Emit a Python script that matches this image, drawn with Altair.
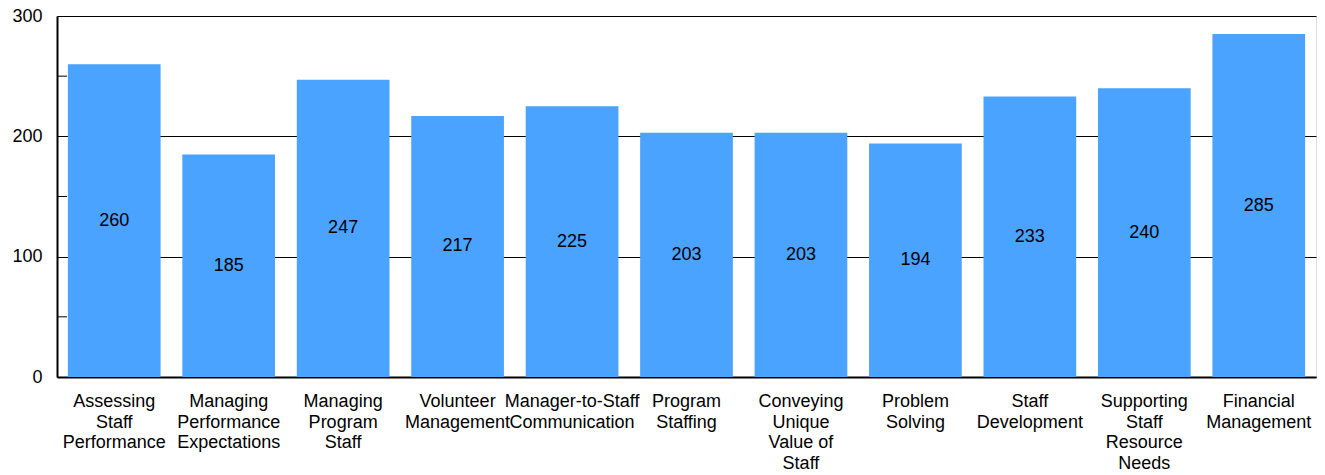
import json
import altair as alt
import pandas as pd

categories = [
    "Assessing Staff Performance",
    "Managing Performance Expectations",
    "Managing Program Staff",
    "Volunteer Management",
    "Manager-to-Staff Communication",
    "Program Staffing",
    "Conveying Unique Value of Staff",
    "Problem Solving",
    "Staff Development",
    "Supporting Staff Resource Needs",
    "Financial Management",
]
label_lines = [
    ["Assessing", "Staff", "Performance"],
    ["Managing", "Performance", "Expectations"],
    ["Managing", "Program", "Staff"],
    ["Volunteer", "Management"],
    ["Manager-to-Staff", "Communication"],
    ["Program", "Staffing"],
    ["Conveying", "Unique", "Value of", "Staff"],
    ["Problem", "Solving"],
    ["Staff", "Development"],
    ["Supporting", "Staff", "Resource", "Needs"],
    ["Financial", "Management"],
]
values = [260, 185, 247, 217, 225, 203, 203, 194, 233, 240, 285]
minor_ticks = [50, 150, 250]

df = pd.DataFrame({"cat": categories, "value": values})
df["mid"] = df["value"] / 2
ticks_df = pd.DataFrame({"t": minor_ticks})

label_map = json.dumps(dict(zip(categories, label_lines)))
label_expr = f"{label_map}[datum.label]"

FONT = "Liberation Sans"
FS = 18

x_enc = alt.X(
    "cat:N",
    sort=categories,
    scale=alt.Scale(paddingInner=0.19, paddingOuter=0.095),
    axis=alt.Axis(
        title=None,
        labelAngle=0,
        labelExpr=label_expr,
        labelFontSize=FS,
        labelFont=FONT,
        labelColor="black",
        labelLineHeight=20.5,
        labelBaseline="top",
        labelPadding=15.5,
        tickSize=0,
        domainColor="black",
        domainWidth=2,
        labelLimit=220,
        labelOverlap=False,
    ),
)
y_scale = alt.Scale(domain=[0, 300], nice=False)

bars = alt.Chart(df).mark_bar(color="#4aa3ff").encode(
    x=x_enc,
    y=alt.Y(
        "value:Q",
        scale=y_scale,
        axis=alt.Axis(
            title=None,
            values=[0, 100, 200, 300],
            labelFontSize=FS,
            labelFont=FONT,
            labelColor="black",
            labelPadding=15,
            tickSize=0,
            domainColor="black",
            domainWidth=2,
            grid=True,
            gridColor="black",
            gridWidth=1,
        ),
    ),
)

text = alt.Chart(df).mark_text(fontSize=FS, font=FONT, color="black").encode(
    x=alt.X("cat:N", sort=categories),
    y=alt.Y("mid:Q", scale=y_scale),
    text=alt.Text("value:Q"),
)

minor = alt.Chart(ticks_df).mark_rule(color="black", strokeWidth=1).encode(
    y=alt.Y("t:Q", scale=y_scale),
    x=alt.value(0),
    x2=alt.value(10),
)

chart = (
    alt.layer(bars, minor, text)
    .properties(
        width=1259,
        height=361,
        autosize=alt.AutoSizeParams(type="none"),
        padding={"left": 49, "top": 8, "right": 1, "bottom": 92},
    )
    .configure_view(stroke="black", strokeWidth=1)
    .configure(background="white")
)

chart.save("out.html", embed_options={"renderer": "svg", "actions": False})
